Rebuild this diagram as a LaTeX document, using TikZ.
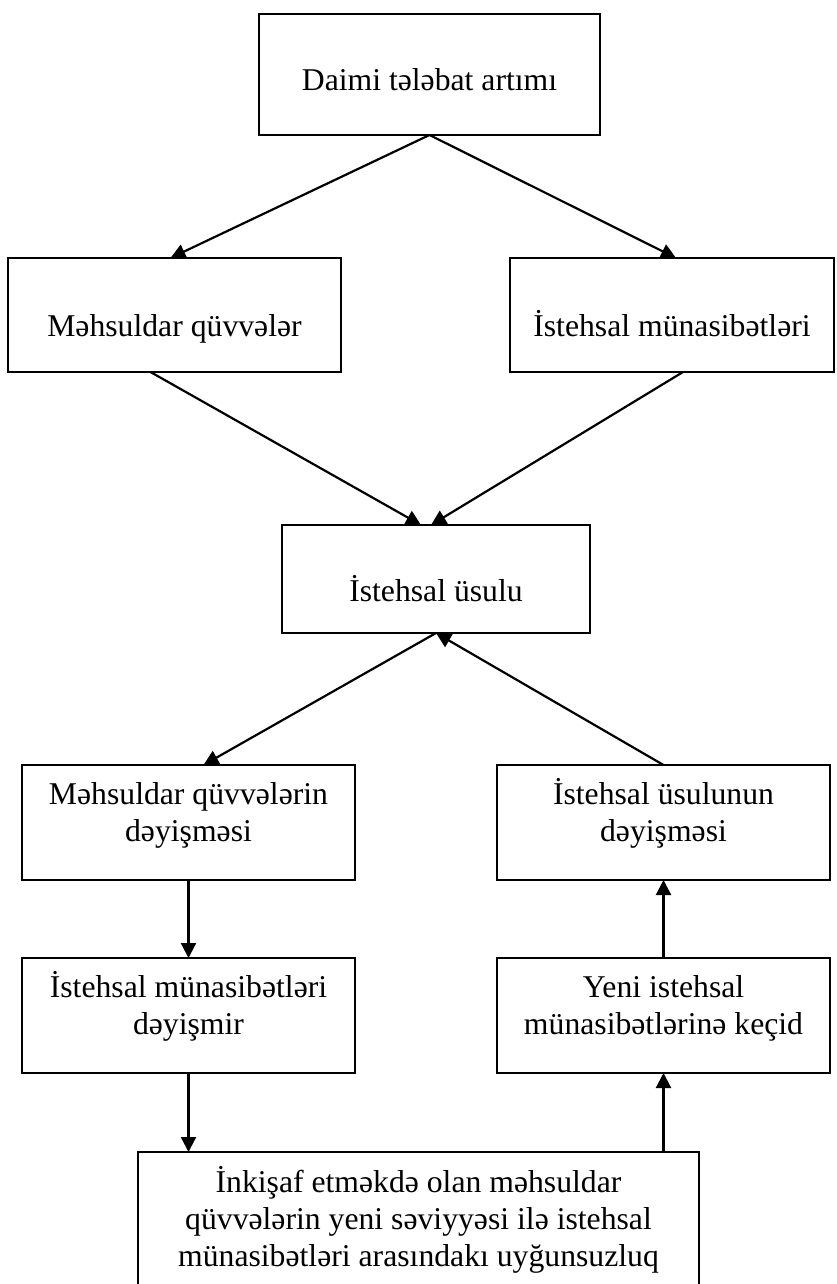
\documentclass[tikz,border=0pt]{standalone}
\usepackage{fontspec}
\setmainfont{Liberation Serif}
\usetikzlibrary{arrows.meta}
\newlength{\pxu}
\setlength{\pxu}{0.5pt}

\begin{document}
\begin{tikzpicture}[x=\pxu,y=-\pxu,font={\fontsize{15.85pt}{18.5pt}\selectfont},
  box/.style={draw=black,line width=.75pt,inner sep=0pt,outer sep=0pt,align=center},
  oneline/.style={text height=#1,text depth=6\pxu},
  twolines/.style={text height=70\pxu,text depth=31.6\pxu},
  arr/.style={-{Triangle[length=7.5pt,width=7.5pt]},line width=1.1pt}]
\useasboundingbox (0,0) rectangle (836,1284);
\node[box,oneline=38.4\pxu,minimum width=341\pxu,minimum height=121\pxu] (demand) at (429.5,74.5) {Daimi tələbat artımı};
\node[box,oneline=49.4\pxu,minimum width=333\pxu,minimum height=114\pxu] (forces) at (174.5,315) {Məhsuldar qüvvələr};
\node[box,oneline=49.4\pxu,minimum width=324\pxu,minimum height=114\pxu] (relations) at (672,315) {İstehsal münasibətləri};
\node[box,oneline=51.4\pxu,minimum width=308\pxu,minimum height=108\pxu] (mode) at (436,579) {İstehsal üsulu};
\node[box,twolines,minimum width=333\pxu,minimum height=115\pxu] (forceschange) at (188.5,822.5) {Məhsuldar qüvvələrin\\dəyişməsi};
\node[box,twolines,minimum width=333\pxu,minimum height=115\pxu] (relationskeep) at (188.5,1015.5) {İstehsal münasibətləri\\dəyişmir};
\node[box,twolines,minimum width=333\pxu,minimum height=115\pxu] (modechange) at (663.5,822.5) {İstehsal üsulunun\\dəyişməsi};
\node[box,twolines,minimum width=333\pxu,minimum height=115\pxu] (newrelations) at (663.5,1015.5) {Yeni istehsal\\münasibətlərinə keçid};
\node[box,text height=100\pxu,text depth=8.6\pxu,minimum width=561\pxu,minimum height=138\pxu] (mismatch) at (418.5,1221) {İnkişaf etməkdə olan məhsuldar\\qüvvələrin yeni səviyyəsi ilə istehsal\\münasibətləri arasındakı uyğunsuzluq};
\draw[arr] (demand.south) -- ([xshift=-4\pxu]forces.north);
\draw[arr] (demand.south) -- ([xshift=4\pxu]relations.north);
\draw[arr] ([xshift=-24\pxu]forces.south) -- ([xshift=-15\pxu]mode.north);
\draw[arr] ([xshift=11\pxu]relations.south) -- ([xshift=-5\pxu]mode.north);
\draw[arr] (mode.south) -- ([xshift=15\pxu]forceschange.north);
\draw[arr] (modechange.north) -- (mode.south);
\draw[arr] (forceschange.south) -- (relationskeep.north);
\draw[arr] (relationskeep.south) -- (relationskeep.south |- mismatch.north);
\draw[arr] (newrelations.south |- mismatch.north) -- (newrelations.south);
\draw[arr] (newrelations.north) -- (modechange.south);
\end{tikzpicture}
\end{document}
